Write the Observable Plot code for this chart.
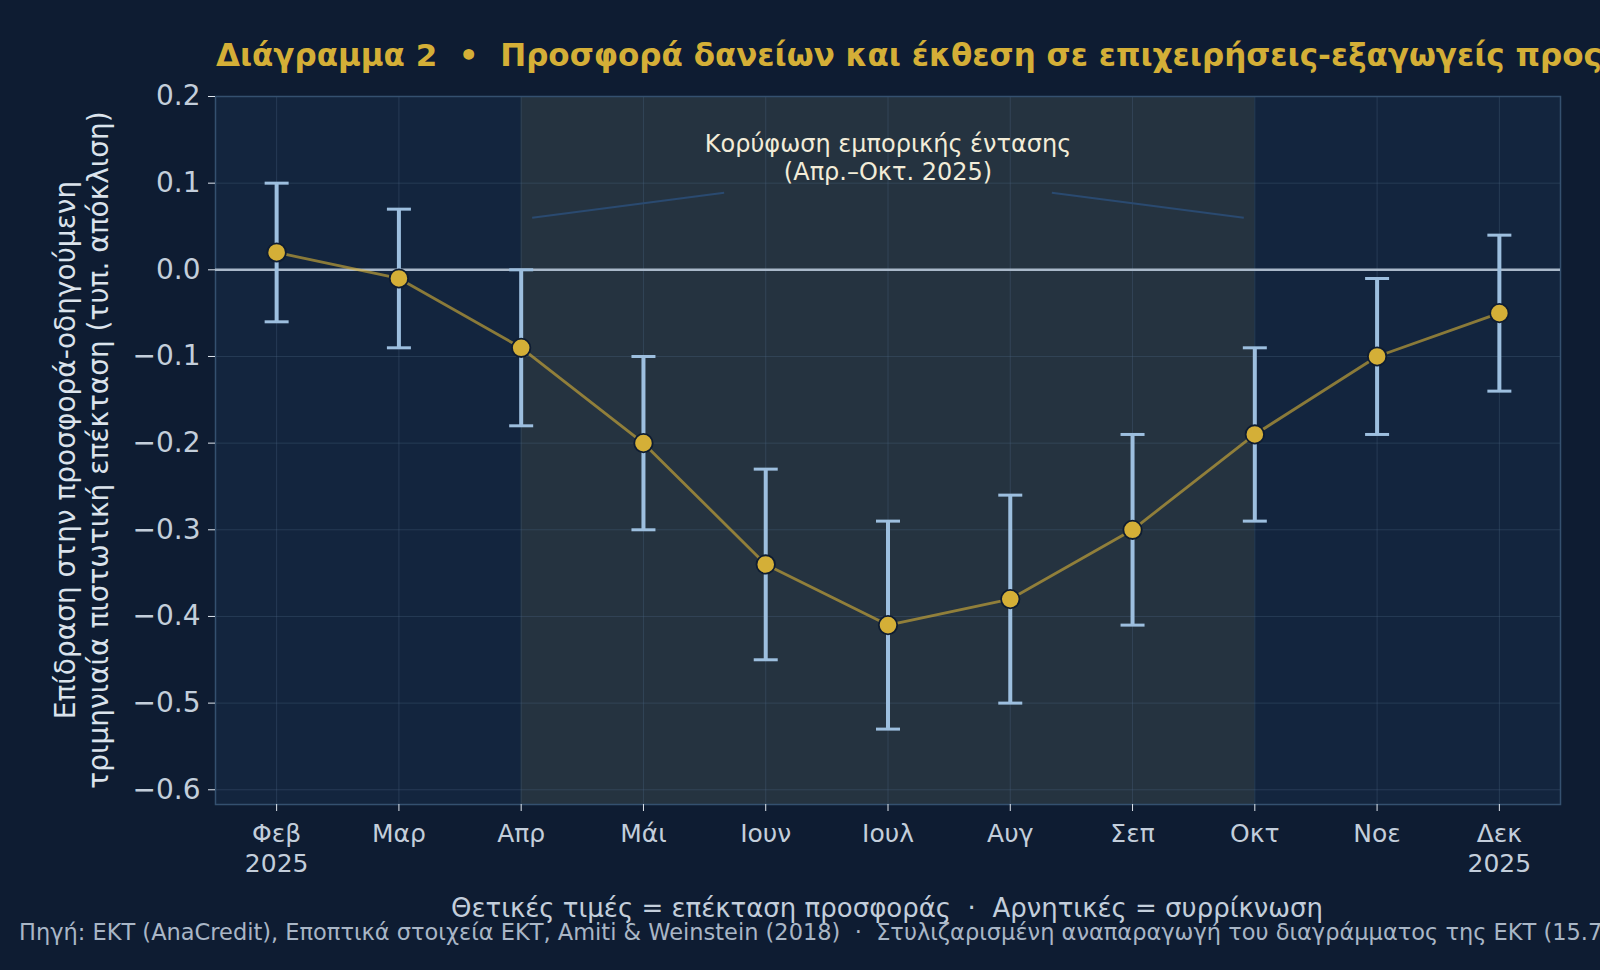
<!DOCTYPE html>
<html>
<head>
<meta charset="utf-8">
<script src="https://cdn.jsdelivr.net/npm/d3@7"></script>
<script src="https://cdn.jsdelivr.net/npm/@observablehq/plot@0.6"></script>
<style>
  html, body { margin: 0; padding: 0; background: #0e1c32; }
  body { width: 1600px; height: 970px; position: relative; overflow: hidden; font-family: "DejaVu Sans", sans-serif; }
  .title { position: absolute; left: 216px; top: 37px; font-size: 31px; font-weight: bold; color: #d4af37; white-space: nowrap; line-height: 1.2; }
  .ylabel { position: absolute; left: 83px; top: 450px; transform: translate(-50%, -50%) rotate(-90deg); font-size: 28px; color: #dbe3ec; white-space: nowrap; text-align: center; line-height: 1.17; }
  .xlabel { position: absolute; left: 887px; top: 908px; transform: translate(-50%, -50%); font-size: 26px; color: #c3cedb; white-space: nowrap; }
  .caption { position: absolute; left: 19px; top: 932px; transform: translateY(-50%); font-size: 22.5px; color: #a9b6c6; white-space: nowrap; }
  #chart { position: absolute; left: 0; top: 0; }
</style>
</head>
<body>
<div class="title">Διάγραμμα 2&nbsp; •&nbsp; Προσφορά δανείων και έκθεση σε επιχειρήσεις-εξαγωγείς προς τις ΗΠΑ</div>
<div id="chart"></div>
<div class="ylabel">Επίδραση στην προσφορά-οδηγούμενη<br>τριμηνιαία πιστωτική επέκταση (τυπ. απόκλιση)</div>
<div class="xlabel">Θετικές τιμές = επέκταση προσφοράς&nbsp; · &nbsp;Αρνητικές = συρρίκνωση</div>
<div class="caption">Πηγή: ΕΚΤ (AnaCredit), Εποπτικά στοιχεία ΕΚΤ, Amiti &amp; Weinstein (2018)&nbsp; · &nbsp;Στυλιζαρισμένη αναπαραγωγή του διαγράμματος της ΕΚΤ (15.7.2025)</div>
<script>
// Monthly estimates, Feb–Dec 2025
const months = ["Φεβ", "Μαρ", "Απρ", "Μάι", "Ιουν", "Ιουλ", "Αυγ", "Σεπ", "Οκτ", "Νοε", "Δεκ"];
const monthLabels = ["Φεβ\n2025", "Μαρ", "Απρ", "Μάι", "Ιουν", "Ιουλ", "Αυγ", "Σεπ", "Οκτ", "Νοε", "Δεκ\n2025"];
const effect = [0.02, -0.01, -0.09, -0.20, -0.34, -0.41, -0.38, -0.30, -0.19, -0.10, -0.05];
const lower  = [-0.06, -0.09, -0.18, -0.30, -0.45, -0.53, -0.50, -0.41, -0.29, -0.19, -0.14];
const upper  = [0.10, 0.07, 0.00, -0.10, -0.23, -0.29, -0.26, -0.19, -0.09, -0.01, 0.04];
const yTicks = [-0.6, -0.5, -0.4, -0.3, -0.2, -0.1, 0.0, 0.1, 0.2];

// Peak trade-tension window (Apr–Oct 2025)
const peakStart = "Απρ", peakEnd = "Οκτ";
const peakNote = "Κορύφωση εμπορικής έντασης\n(Απρ.–Οκτ. 2025)";
const noteMonth = "Ιουλ", noteValue = 0.13;
// connector segments from the note towards the window edges
const connectors = [
  {x1: 3.66, y1: 0.089, x2: 2.09, y2: 0.06},
  {x1: 6.34, y1: 0.089, x2: 7.91, y2: 0.06}
];

const data = months.map((m, i) => ({i, m, v: effect[i], lo: lower[i], hi: upper[i]}));
const idx = m => months.indexOf(m);

// horizontal cap for the error bars
const capSymbol = {
  draw(context, size) {
    context.moveTo(-12, 0);
    context.lineTo(12, 0);
  }
};

const chart = Plot.plot({
  width: 1600,
  height: 970,
  marginTop: 96,
  marginBottom: 166,
  marginLeft: 215,
  marginRight: 40,
  style: {background: "transparent", fontFamily: "DejaVu Sans, sans-serif", fontSize: "24px", color: "#c3cedb"},
  x: {domain: [-0.5, months.length - 0.5], label: null},
  y: {domain: [-0.617, 0.2], label: null},
  marks: [
    Plot.frame({fill: "#13253e", stroke: null}),
    Plot.rect([{a: idx(peakStart), b: idx(peakEnd)}], {x1: "a", x2: "b", fill: "#253340"}),
    Plot.gridX(d3.range(months.length), {stroke: "#4a6482", strokeOpacity: 0.35, strokeWidth: 1}),
    Plot.gridY(yTicks, {stroke: "#4a6482", strokeOpacity: 0.35, strokeWidth: 1}),
    Plot.frame({stroke: "#34506f", strokeWidth: 1.5}),
    Plot.axisX({ticks: d3.range(months.length), tickFormat: i => monthLabels[i], tickSize: 7, tickPadding: 10, stroke: "#dfe6ee", fill: "#c3cedb", fontSize: 25, lineHeight: 1.18, label: null}),
    Plot.axisY({ticks: yTicks, tickFormat: d3.format(".1f"), tickSize: 7, tickPadding: 8, stroke: "#dfe6ee", fill: "#c3cedb", fontSize: 28, label: null}),
    Plot.link(connectors, {x1: "x1", y1: "y1", x2: "x2", y2: "y2", stroke: "#2a4a70", strokeWidth: 2}),
    Plot.text([peakNote], {x: idx(noteMonth), y: noteValue, text: d => d, fill: "#f2ecd8", fontSize: 24, lineHeight: 1.15}),
    Plot.ruleY([0], {stroke: "#aab9ca", strokeWidth: 2.5}),
    Plot.ruleX(data, {x: "i", y1: "lo", y2: "hi", stroke: "#9dbfdf", strokeWidth: 4}),
    Plot.dot(data, {x: "i", y: "lo", symbol: capSymbol, r: 5, stroke: "#9dbfdf", strokeWidth: 3, fill: "none"}),
    Plot.dot(data, {x: "i", y: "hi", symbol: capSymbol, r: 5, stroke: "#9dbfdf", strokeWidth: 3, fill: "none"}),
    Plot.line(data, {x: "i", y: "v", stroke: "#d4af37", strokeOpacity: 0.62, strokeWidth: 2.8}),
    Plot.dot(data, {x: "i", y: "v", r: 9.2, fill: "#d4af37", stroke: "#0e1c32", strokeWidth: 1.8})
  ]
});
document.getElementById("chart").appendChild(chart);
</script>
</body>
</html>
